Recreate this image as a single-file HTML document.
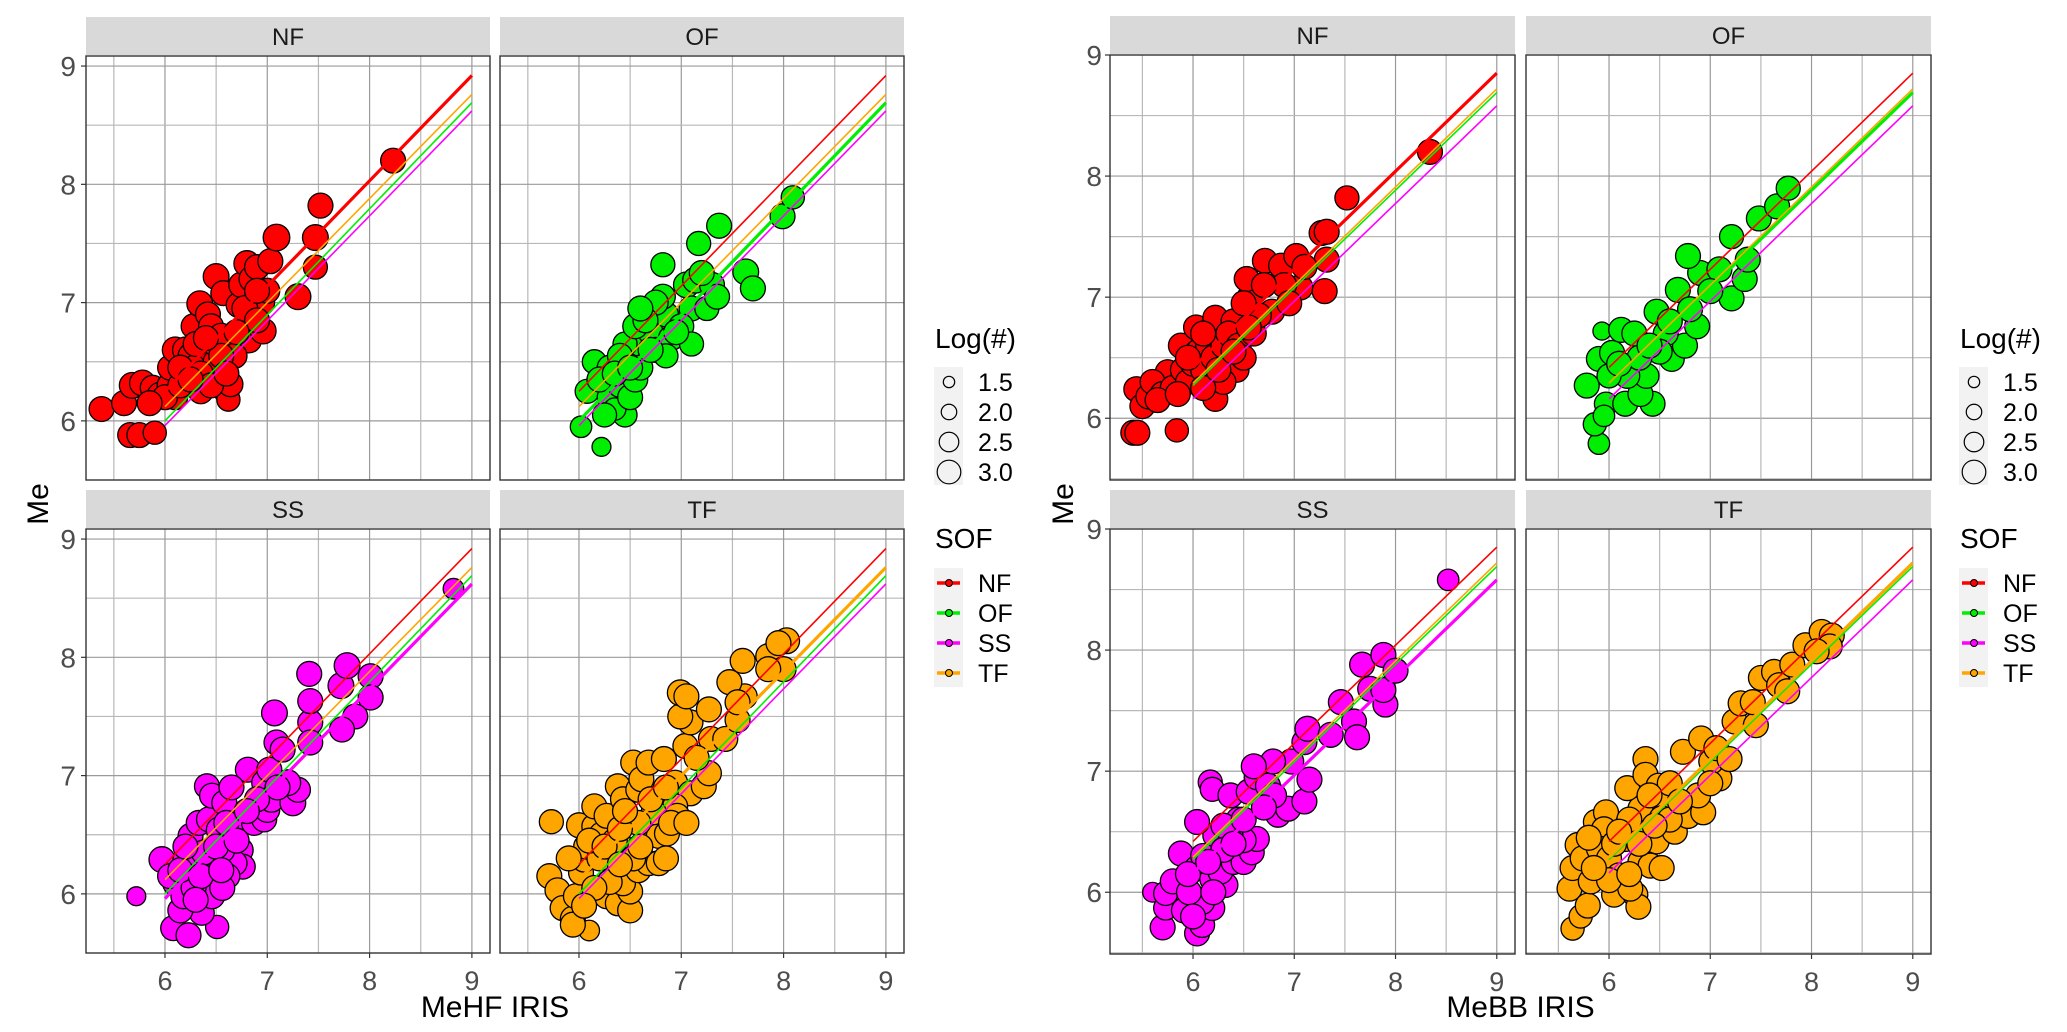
<!DOCTYPE html>
<html><head><meta charset="utf-8"><title>Me vs IRIS by SOF</title>
<style>
html,body{margin:0;padding:0;background:#fff;}
svg{display:block;font-family:"Liberation Sans",Arial,sans-serif;}
</style></head>
<body>
<svg id="chart" xmlns="http://www.w3.org/2000/svg" width="2067" height="1032" viewBox="0 0 2067 1032">
<rect x="0" y="0" width="2067" height="1032" fill="#fff"/>
<g id="root"></g>
</svg>
<script>
// ---- data ----
const sofNames = ["NF","OF","SS","TF"];
const sofColors = ["#ff0000","#00ee00","#ff00ff","#ffa500"];
const xTicks = [6,7,8,9];
const yTicks = [6,7,8,9];
const sizeLegendValues = [1.5,2.0,2.5,3.0];
const sizeLegendLabels = ["1.5","2.0","2.5","3.0"];
// regression lines: value at x=6 and x=9, order NF,OF,SS,TF
const leftLineAt6 = [6.25,6.00,5.96,6.12];
const leftLineAt9 = [8.92,8.69,8.62,8.76];
const rightLineAt6 = [6.42,6.27,6.16,6.29];
const rightLineAt9 = [8.85,8.69,8.58,8.72];

const leftNF = [[5.38,6.1,3.0],[5.6,6.15,3.0],[5.68,6.3,3.1],[5.78,6.32,3.1],[5.88,6.28,3.0],[5.95,6.22,3.0],[5.66,5.88,3.0],[5.75,5.88,3.0],[5.9,5.9,2.8],[6.05,6.3,3.1],[6.1,6.2,3.0],[6.05,6.45,3.0],[6.1,6.6,3.1],[6.2,6.6,3.1],[6.25,6.55,3.0],[6.3,6.45,3.1],[6.2,6.35,3.0],[6.35,6.25,3.0],[6.4,6.45,3.1],[6.45,6.6,3.0],[6.5,6.5,3.1],[6.55,6.35,3.0],[6.6,6.25,3.0],[6.62,6.18,2.8],[6.28,6.8,3.0],[6.34,6.99,3.1],[6.42,6.9,3.0],[6.45,6.8,3.0],[6.5,6.65,3.1],[6.55,6.72,3.0],[6.64,6.31,3.0],[6.5,7.22,3.1],[6.57,7.08,3.0],[6.72,6.98,3.0],[6.75,7.15,3.1],[6.8,7.33,3.1],[6.85,7.2,3.1],[6.9,7.3,3.0],[6.95,7.0,3.0],[7.03,7.35,3.0],[6.82,6.68,3.0],[6.96,6.76,3.1],[6.78,6.95,3.1],[7.09,7.55,3.2],[7.3,7.05,3.1],[7.47,7.55,3.1],[7.47,7.3,2.9],[7.52,7.82,3.0],[8.23,8.2,3.0],[6.0,6.2,3.0],[5.85,6.15,3.0],[6.15,6.3,3.0],[6.3,6.65,3.0],[6.68,6.55,3.0],[7.0,7.1,3.0],[6.9,6.85,3.0],[6.15,6.45,3.0],[6.35,6.4,3.0],[6.45,6.3,3.0],[6.25,6.35,3.0],[6.55,6.55,3.0],[6.6,6.4,3.0],[6.4,6.7,3.0],[6.7,6.75,3.0],[6.9,7.1,3.0]];
const leftOF = [[6.02,5.95,2.6],[6.22,5.78,2.3],[6.08,6.25,2.9],[6.15,6.5,2.9],[6.3,6.45,3.0],[6.3,6.2,3.0],[6.4,6.3,2.9],[6.45,6.05,2.9],[6.35,6.1,2.7],[6.5,6.2,3.0],[6.55,6.35,3.0],[6.5,6.55,3.0],[6.6,6.65,3.0],[6.7,6.75,3.0],[6.75,6.6,3.0],[6.6,6.45,3.0],[6.45,6.65,2.9],[6.55,6.8,3.0],[6.85,6.9,3.0],[6.9,6.7,3.0],[6.82,7.05,3.0],[6.82,7.32,2.9],[7.05,7.15,3.1],[7.1,6.95,3.0],[7.14,7.19,3.1],[7.3,7.15,3.0],[7.25,6.95,2.9],[7.35,7.05,3.0],[7.2,7.25,3.0],[7.17,7.5,2.9],[7.37,7.65,3.0],[7.63,7.26,3.1],[7.7,7.12,3.0],[7.99,7.73,3.0],[8.09,7.89,2.8],[6.75,7.0,3.0],[6.85,6.55,2.9],[6.2,6.35,3.0],[6.25,6.05,2.9],[6.4,6.55,3.0],[6.65,6.85,3.0],[7.0,6.8,3.0],[7.1,6.65,2.9],[6.6,6.95,3.0],[6.95,6.75,3.0],[6.35,6.4,3.0],[6.5,6.45,3.0],[6.7,6.6,3.0]];
const leftSS = [[5.72,5.98,2.3],[5.97,6.29,3.1],[6.08,5.71,3.0],[6.23,5.65,3.0],[6.51,5.72,2.8],[6.36,5.84,3.0],[6.15,5.86,3.0],[6.1,6.09,3.0],[6.23,6.09,3.0],[6.41,6.06,3.1],[6.46,6.15,3.0],[6.3,6.26,3.0],[6.2,6.29,3.0],[6.25,6.49,3.0],[6.33,6.6,3.0],[6.43,6.63,3.0],[6.41,6.91,3.0],[6.46,6.83,3.0],[6.58,6.77,3.0],[6.53,6.54,3.1],[6.66,6.54,3.0],[6.74,6.37,3.0],[6.76,6.23,3.0],[6.68,6.26,3.0],[6.56,6.37,3.0],[6.87,6.6,3.0],[6.97,6.63,3.0],[7.0,6.71,3.0],[6.81,7.05,3.0],[6.97,6.94,3.0],[7.04,6.8,3.1],[7.25,6.77,3.1],[7.3,6.88,3.0],[7.2,6.94,3.1],[7.02,7.05,3.0],[7.09,7.28,3.0],[7.15,7.22,3.0],[7.07,7.53,3.1],[7.42,7.45,3.0],[7.42,7.28,3.0],[7.42,7.63,3.0],[7.41,7.86,3.0],[7.72,7.76,3.1],[7.78,7.93,3.1],[8.01,7.84,3.0],[8.01,7.66,3.0],[7.86,7.5,3.0],[7.73,7.39,3.0],[8.82,8.58,2.5],[6.61,6.15,3.0],[6.46,5.98,3.0],[6.18,5.98,3.0],[6.05,6.15,3.0],[6.28,6.05,3.0],[6.56,6.05,3.0],[6.38,6.35,3.0],[6.6,6.6,3.0],[6.9,6.8,3.0],[6.15,6.2,3.0],[6.35,6.15,3.0],[6.5,6.4,3.0],[6.7,6.45,3.0],[6.55,6.2,3.0],[6.3,5.95,3.0],[6.2,6.4,3.0],[6.8,6.7,3.0],[6.65,6.9,3.0],[7.1,6.9,3.0]];
const leftTF = [[5.73,6.61,2.9],[5.71,6.15,3.0],[5.79,6.03,3.0],[5.84,5.88,3.0],[5.94,5.79,3.0],[6.1,5.69,2.5],[5.94,5.74,3.0],[5.97,5.98,3.0],[6.02,6.18,3.0],[6.05,6.29,3.0],[6.07,6.4,3.0],[6.0,6.58,3.0],[6.15,6.57,3.0],[6.15,6.74,3.0],[6.22,6.5,3.0],[6.27,6.66,3.0],[6.33,6.18,3.0],[6.27,5.98,3.0],[6.38,5.92,3.0],[6.5,5.86,3.0],[6.5,6.02,3.0],[6.43,6.09,3.0],[6.58,6.2,3.0],[6.68,6.26,3.0],[6.48,6.37,3.0],[6.66,6.49,3.0],[6.78,6.49,3.0],[6.86,6.51,3.0],[6.38,6.91,3.0],[6.43,6.8,3.0],[6.58,6.88,3.0],[6.53,7.11,3.0],[6.61,6.97,3.0],[6.68,7.11,3.0],[6.83,7.14,3.0],[6.94,6.94,3.0],[7.09,6.85,3.0],[6.94,6.74,3.0],[6.96,6.66,3.0],[7.22,6.91,3.0],[7.27,7.02,3.0],[7.04,7.25,3.0],[7.09,7.45,3.0],[6.99,7.5,3.0],[6.99,7.7,3.1],[7.05,7.67,3.0],[7.27,7.56,3.0],[7.29,7.31,3.0],[7.43,7.31,3.0],[7.55,7.47,3.0],[7.62,7.67,3.0],[7.47,7.79,3.0],[7.6,7.97,3.0],[7.85,8.01,3.0],[8.03,8.14,3.1],[7.95,8.12,3.0],[8.0,7.9,3.0],[7.85,7.9,3.0],[7.55,7.62,3.0],[6.78,6.26,3.0],[6.53,6.3,3.0],[6.73,6.69,3.0],[6.58,6.6,3.0],[6.2,6.3,3.0],[6.35,6.45,3.0],[6.1,6.45,3.0],[6.25,6.4,3.0],[6.4,6.55,3.0],[6.45,6.7,3.0],[6.6,6.4,3.0],[6.85,6.3,3.0],[6.9,6.6,3.0],[7.05,6.6,3.0],[6.3,6.1,3.0],[6.15,6.05,3.0],[6.4,6.25,3.0],[6.7,6.8,3.0],[6.85,6.9,3.0],[7.15,7.15,3.0],[5.9,6.3,3.0],[6.05,5.9,3.0]];
const rightNF = [[5.41,5.88,3.0],[5.45,5.88,3.0],[5.84,5.9,2.8],[5.44,6.24,3.0],[5.5,6.1,3.0],[5.56,6.18,3.0],[5.75,6.38,3.0],[5.88,6.6,3.0],[6.03,6.75,3.0],[6.22,6.83,3.0],[6.4,6.8,3.0],[6.22,6.16,3.0],[6.43,6.4,3.0],[6.56,7.0,3.0],[6.53,7.15,3.0],[6.71,7.3,3.0],[6.87,7.26,3.0],[7.02,7.34,3.0],[6.78,6.88,3.0],[7.06,7.08,3.0],[7.3,7.05,3.0],[7.32,7.31,3.0],[7.27,7.53,3.0],[7.32,7.54,3.0],[7.52,7.82,2.9],[8.34,8.2,3.0],[5.6,6.3,3.0],[5.7,6.2,3.0],[5.8,6.25,3.0],[5.9,6.4,3.0],[5.95,6.3,3.0],[6.0,6.45,3.0],[6.05,6.55,3.0],[6.1,6.4,3.0],[6.15,6.6,3.0],[6.2,6.5,3.0],[6.3,6.6,3.0],[6.35,6.7,3.0],[6.45,6.6,3.0],[6.5,6.5,3.0],[6.3,6.3,3.0],[6.1,6.25,3.0],[6.6,6.7,3.0],[6.65,6.85,3.0],[6.9,7.1,3.0],[6.95,6.95,3.0],[7.1,7.25,3.0],[6.5,6.95,3.0],[5.65,6.15,3.0],[5.85,6.2,3.0],[5.95,6.5,3.0],[6.1,6.7,3.0],[6.25,6.4,3.0],[6.4,6.55,3.0],[6.55,6.75,3.0],[6.7,7.1,3.0]];
const rightOF = [[5.93,6.72,2.2],[5.9,5.79,2.6],[5.86,5.95,2.8],[5.78,6.27,3.0],[5.97,6.12,2.8],[5.95,6.02,2.6],[6.16,6.12,3.0],[6.43,6.12,3.0],[6.31,6.2,3.0],[5.9,6.49,3.0],[6.03,6.54,3.0],[6.12,6.73,3.0],[6.25,6.7,3.0],[6.47,6.88,3.0],[6.62,6.49,3.0],[6.75,6.6,3.0],[6.68,7.06,3.0],[6.9,7.2,3.0],[6.78,7.34,3.0],[7.09,7.23,3.0],[7.21,6.99,3.0],[7.34,7.15,3.0],[7.37,7.31,3.0],[7.21,7.5,2.9],[7.48,7.65,3.0],[7.66,7.75,3.0],[7.77,7.9,2.9],[6.87,6.76,3.0],[6.56,6.7,3.0],[6.37,6.35,3.0],[6.18,6.35,3.0],[6.0,6.35,2.9],[6.5,6.55,3.0],[6.8,6.9,3.0],[7.0,7.05,3.0],[6.3,6.5,3.0],[6.1,6.45,3.0],[6.4,6.6,3.0],[6.6,6.8,3.0]];
const rightSS = [[5.6,6.0,2.4],[5.7,5.71,3.0],[5.73,5.87,2.9],[5.73,5.99,2.9],[5.8,6.09,3.0],[5.91,5.85,3.0],[6.04,5.66,3.0],[6.09,5.73,3.0],[6.19,5.87,3.0],[6.09,5.92,3.0],[5.96,6.0,3.0],[5.88,6.32,3.0],[6.04,6.2,3.0],[6.19,6.11,3.0],[6.32,6.06,3.0],[6.27,6.17,3.0],[6.4,6.25,3.0],[6.5,6.25,3.0],[6.58,6.33,3.0],[6.63,6.44,3.0],[6.5,6.43,3.0],[6.37,6.47,3.0],[6.22,6.47,3.0],[6.04,6.58,3.0],[6.17,6.91,2.9],[6.19,6.85,2.9],[6.37,6.8,3.0],[6.55,6.83,3.0],[6.63,6.95,3.0],[6.74,6.88,3.0],[6.84,6.64,3.0],[6.94,6.69,3.0],[7.1,6.75,3.0],[7.15,6.93,3.0],[6.97,7.08,3.0],[6.79,7.08,3.0],[6.6,7.04,3.0],[7.1,7.24,3.0],[7.13,7.35,3.0],[7.36,7.3,3.0],[7.46,7.57,3.0],[7.59,7.41,3.0],[7.62,7.28,3.0],[7.67,7.88,3.0],[7.75,7.68,3.0],[7.88,7.96,3.0],[7.9,7.55,3.0],[7.88,7.67,3.0],[8.0,7.83,3.0],[8.52,8.58,2.6],[6.1,6.3,3.0],[6.3,6.35,3.0],[6.45,6.6,3.0],[6.8,6.8,3.0],[5.95,6.15,3.0],[6.15,6.25,3.0],[6.3,6.55,3.0],[6.5,6.6,3.0],[6.7,6.7,3.0],[6.2,6.0,3.0],[6.4,6.4,3.0],[6.0,5.8,3.0]];
const rightTF = [[5.64,5.7,2.8],[5.72,5.8,2.8],[5.61,6.03,3.0],[5.64,6.2,3.0],[5.79,5.89,3.0],[5.82,6.09,3.0],[5.69,6.39,3.0],[5.74,6.28,3.0],[5.87,6.58,3.0],[5.97,6.66,3.0],[5.95,6.52,3.0],[5.9,6.36,3.0],[6.0,6.28,3.0],[6.1,6.14,3.0],[6.05,5.98,3.0],[6.26,5.98,3.0],[6.29,5.88,3.0],[6.21,6.03,3.0],[6.31,6.25,3.0],[6.16,6.44,3.0],[6.26,6.55,3.0],[6.31,6.69,3.0],[6.18,6.86,3.0],[6.36,7.1,3.0],[6.36,6.97,3.0],[6.49,6.88,3.0],[6.57,6.72,3.0],[6.52,6.61,3.0],[6.47,6.42,3.0],[6.41,6.22,3.0],[6.52,6.2,3.0],[6.65,6.5,3.0],[6.78,6.63,3.0],[6.93,6.66,3.0],[6.88,6.8,3.0],[7.09,6.94,3.0],[7.01,7.08,3.0],[6.73,7.16,3.0],[6.91,7.27,3.0],[7.06,7.19,3.0],[7.19,7.1,3.0],[7.24,7.41,3.0],[7.3,7.56,3.0],[7.45,7.38,3.0],[7.5,7.77,3.0],[7.63,7.82,3.0],[7.68,7.71,3.0],[7.76,7.66,3.0],[7.81,7.88,3.0],[7.94,8.04,3.0],[8.1,8.15,3.0],[8.2,8.12,3.0],[8.18,8.03,3.0],[8.05,7.99,3.0],[7.42,7.57,3.0],[6.05,6.4,3.0],[6.2,6.6,3.0],[6.6,6.9,3.0],[6.0,6.1,3.0],[5.8,6.45,3.0],[5.85,6.2,3.0],[6.1,6.5,3.0],[6.3,6.4,3.0],[6.4,6.8,3.0],[6.6,6.6,3.0],[6.2,6.15,3.0],[6.45,6.55,3.0],[6.7,6.75,3.0],[7.0,6.9,3.0]];

// ---- layout ----
const NS = "http://www.w3.org/2000/svg";
const root = document.getElementById("root");
function mk(tag, attrs, parent){
  const e = document.createElementNS(NS, tag);
  for (const k in attrs) e.setAttribute(k, attrs[k]);
  (parent||root).appendChild(e);
  return e;
}
function radius(s){ return 6 + (s - 1.5) * 4.3; }

const figures = [
  { key:"left", panelX:[86,500], panelW:404, rowY:[56,529], panelH:424, xDom:[5.228,9.177], yDom:[5.5,9.085],
    data:[leftNF,leftOF,leftSS,leftTF], at6:leftLineAt6, at9:leftLineAt9, ytx:76, meX:38, title:"MeHF IRIS", legX:935 },
  { key:"right", panelX:[1110,1526], panelW:405, rowY:[55,529], panelH:425, xDom:[5.18,9.18], yDom:[5.49,9.0],
    data:[rightNF,rightOF,rightSS,rightTF], at6:rightLineAt6, at9:rightLineAt9, ytx:1102, meX:1063, title:"MeBB IRIS", legX:1960 }
];

figures.forEach(fig => {
  const g = mk("g", {});
  
  
  for (let p = 0; p < 4; p++) {
    const col = p % 2, row = Math.floor(p / 2);
    const px = fig.panelX[col], py = fig.rowY[row], W = fig.panelW, H = fig.panelH;
    const sx = v => px + (v - fig.xDom[0]) / (fig.xDom[1] - fig.xDom[0]) * W;
    const sy = v => py + H - (v - fig.yDom[0]) / (fig.yDom[1] - fig.yDom[0]) * H;
    const pg = mk("g", {}, g);
    
    
    const strip = mk("rect", {x:px, y:py-39, width:W, height:38, fill:"#d9d9d9"}, pg);
    
    
    const st = mk("text", {x:px+W/2, y:py-11, "text-anchor":"middle", "font-size":24, fill:"#1a1a1a"}, pg);
    st.textContent = sofNames[p];
    
    
    mk("rect", {x:px, y:py, width:W, height:H, fill:"#fff"}, pg);
    for (let v = 5.5; v <= 9.01; v += 0.5) {
      const major = Math.abs(v - Math.round(v)) < 1e-6;
      const gx = sx(v);
      if (gx > px && gx < px + W) {
        const l = mk("line", {x1:gx, x2:gx, y1:py, y2:py+H, stroke: major ? "#9a9a9a" : "#b8b8b8", "stroke-width":1.2}, pg);
        
        
      }
      const gy = sy(v);
      if (gy > py && gy < py + H) {
        const l2 = mk("line", {x1:px, x2:px+W, y1:gy, y2:gy, stroke: major ? "#9a9a9a" : "#b8b8b8", "stroke-width":1.2}, pg);
        
        
      }
    }
    fig.data[p].forEach(d => {
      const c = mk("circle", {cx:sx(d[0]), cy:sy(d[1]), r:radius(d[2]), fill:sofColors[p], stroke:"#000", "stroke-width":1.3}, pg);
      
      
    });
    for (let k = 0; k < 4; k++) {
      const ln = mk("line", {x1:sx(6), y1:sy(fig.at6[k]), x2:sx(9), y2:sy(fig.at9[k]), stroke:sofColors[k], "stroke-width": k === p ? 3.2 : 1.6}, pg);
      
      
    }
    const br = mk("rect", {x:px, y:py, width:W, height:H, fill:"none", stroke:"#333", "stroke-width":1.4}, pg);
    
    
    if (col === 0) {
      yTicks.forEach(t => {
        const ty = sy(t);
        mk("line", {x1:px-5, x2:px, y1:ty, y2:ty, stroke:"#333", "stroke-width":1.2}, pg);
        const tl = mk("text", {x:fig.ytx, y:ty+10, "text-anchor":"end", "font-size":28, fill:"#4d4d4d"}, pg);
        tl.textContent = String(t);
        
        
      });
    }
    if (row === 1) {
      xTicks.forEach(t => {
        const tx = sx(t);
        mk("line", {x1:tx, x2:tx, y1:py+H, y2:py+H+5, stroke:"#333", "stroke-width":1.2}, pg);
        const tl = mk("text", {x:tx, y:py+H+37, "text-anchor":"middle", "font-size":27, fill:"#4d4d4d"}, pg);
        tl.textContent = String(t);
        
        
      });
    }
  }
  const xt = mk("text", {x:(fig.panelX[0]+fig.panelX[1]+fig.panelW)/2, y:1017, "text-anchor":"middle", "font-size":30, fill:"#000"}, g);
  xt.textContent = fig.title;
  
  
  const yt = mk("text", {x:0, y:0, "text-anchor":"middle", "font-size":30, fill:"#000", transform:`translate(${fig.meX+10},504) rotate(-90)`}, g);
  yt.textContent = "Me";
  
  
  const L = fig.legX;
  const lg = mk("g", {}, g);
  
  
  const lt = mk("text", {x:L, y:348, "font-size":28, fill:"#000"}, lg);
  lt.textContent = "Log(#)";
  
  
  mk("rect", {x:L-1, y:367, width:29, height:118, fill:"#f2f2f2"}, lg);
  sizeLegendValues.forEach((v, i) => {
    const cy = 382 + i * 30;
    const c = mk("circle", {cx:L+14, cy:cy, r:radius(v)*0.95, fill:"none", stroke:"#000", "stroke-width":1.2}, lg);
    
    
    const t = mk("text", {x:L+43, y:cy+9, "font-size":25, fill:"#000"}, lg);
    t.textContent = sizeLegendLabels[i];
    
    
  });
  const sg = mk("g", {}, g);
  
  
  const s2 = mk("text", {x:L, y:548, "font-size":28, fill:"#000"}, sg);
  s2.textContent = "SOF";
  
  
  mk("rect", {x:L-1, y:568, width:29, height:119, fill:"#f2f2f2"}, sg);
  sofNames.forEach((n, i) => {
    const cy = 583 + i * 30;
    const e = mk("g", {}, sg);
    
    
    mk("line", {x1:L+2, x2:L+25, y1:cy, y2:cy, stroke:sofColors[i], "stroke-width":3.5}, e);
    mk("circle", {cx:L+14, cy:cy, r:3.5, fill:sofColors[i], stroke:"#000", "stroke-width":1}, e);
    const t = mk("text", {x:L+43, y:cy+9, "font-size":25, fill:"#000"}, e);
    t.textContent = n;
  });
});
</script>
</body></html>
